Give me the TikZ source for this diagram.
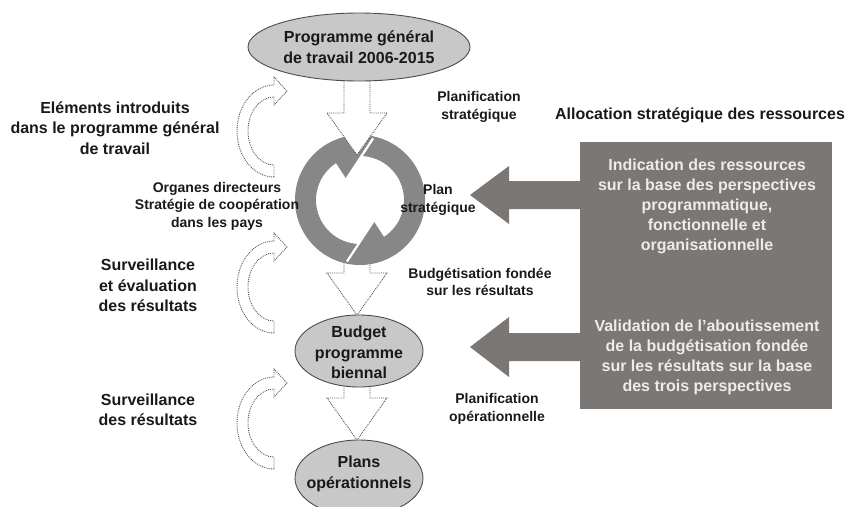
\documentclass[tikz,border=0pt]{standalone}
\usepackage{fontspec}
\setmainfont{Liberation Sans}
\usetikzlibrary{shapes.geometric,calc}
\definecolor{ringgray}{RGB}{135,135,135}
\definecolor{boxgray}{RGB}{122,119,116}
\definecolor{ellgray}{RGB}{200,200,200}
\definecolor{dotgray}{RGB}{85,85,85}
\definecolor{boxtext}{RGB}{236,236,236}
\newcommand{\hollowarr}[4]{% x, shaft top, head base, tip
  \draw[hollow] (#1-13,#2) -- (#1-13,#3) -- (#1-30,#3) -- (#1,#4) -- (#1+30,#3) -- (#1+13,#3) -- (#1+13,#2);}
\newcommand{\curvarr}[2]{%
  \draw[curv] (#1,#2+46) arc[start angle=90,end angle=270,x radius=37,y radius=46]
    -- ++(0,-8) -- ++(13,14) -- ++(-13,14) -- ++(0,-8)
    arc[start angle=270,end angle=90,x radius=26,y radius=34] -- cycle;}
\begin{document}
\begin{tikzpicture}[x=1pt,y=-1pt,
  big/.style={font=\fontsize{16}{20.5}\selectfont\bfseries, align=center, inner sep=0pt, text=black!90},
  small/.style={font=\fontsize{14}{17.5}\selectfont\bfseries, align=center, inner sep=0pt, text=black!90},
  boxtxt/.style={font=\fontsize{16}{20}\selectfont\bfseries, align=center, inner sep=0pt, text=boxtext},
  ell/.style={ellipse, draw=black!70, line width=0.9pt, fill=ellgray, inner sep=0pt},
  hollow/.style={draw=dotgray, densely dotted, line width=0.9pt, fill=white},
  curv/.style={draw=dotgray, densely dotted, line width=0.9pt}]
\useasboundingbox (0,0) rectangle (851,506);

% hollow arrows behind the ring
\hollowarr{357}{250}{273}{315}
\hollowarr{357}{375}{398}{440}

% ring
\coordinate (ring) at (360,200);
\fill[ringgray, even odd rule] (ring) circle[radius=65] (ring) circle[radius=44];
\fill[ringgray] ($(ring)+(282:65)$) -- ($(ring)+(237:25)$) -- ($(ring)+(237:46)$) -- ($(ring)+(260:55)$) -- cycle;
\fill[ringgray] ($(ring)+(102:65)$) -- ($(ring)+(57:25)$) -- ($(ring)+(57:46)$) -- ($(ring)+(80:55)$) -- cycle;
\draw[white, line width=2.2pt] ($(ring)+(282:63)$) -- ($(ring)+(237:25)$);
\draw[white, line width=2.2pt] ($(ring)+(102:63)$) -- ($(ring)+(57:25)$);
\hollowarr{357}{70}{113}{155}

% ellipses
\node[ell, minimum width=222, minimum height=68] (pgt) at (359,47) {};
\node[big] (pgtt) at (pgt) {Programme général\\de travail 2006-2015};
\node[ell, minimum width=128, minimum height=72] (bud) at (359,351) {};
\node[big] (budt) at (359,352.5) {Budget\\programme\\biennal};
\node[ell, minimum width=128, minimum height=76] (ops) at (359,478) {};
\node[big] (opst) at (359,474) {Plans\\opérationnels};

% curved dotted arrows
\curvarr{274}{131}
\curvarr{274}{287}
\curvarr{274}{423}

% left labels
\node[big] (elem) at (115,128) {Eléments introduits\\dans le programme général\\de travail};
\node[small] (org) at (217,206) {Organes directeurs\\Stratégie de coopération\\dans les pays};
\node[big] (surv1) at (148,285.5) {Surveillance\\et évaluation\\des résultats};
\node[big] (surv2) at (148,410) {Surveillance\\des résultats};

% right labels
\node[small] (plst) at (479,107) {Planification\\stratégique};
\node[small] (plan) at (438,200) {Plan\\stratégique};
\node[small] (bfr) at (480,282) {Budgétisation fondée\\sur les résultats};
\node[small] (plop) at (497,409) {Planification\\opérationnelle};
\node[big] (alloc) at (700,115) {Allocation stratégique des ressources};

% box and big arrows
\node[fill=boxgray, minimum width=252, minimum height=267, inner sep=0pt, anchor=north west] (box) at (580,142) {};
\coordinate (t1) at (470,195);
\coordinate (t2) at (470,347);
\fill[boxgray] (box.west |- 0,181) -- (509,181) -- (509,166) -- (t1) -- (509,224) -- (509,209) -- (box.west |- 0,209) -- cycle;
\fill[boxgray] (box.west |- 0,333) -- (509,333) -- (509,317) -- (t2) -- (509,377) -- (509,361) -- (box.west |- 0,361) -- cycle;
\node[boxtxt] (ind) at (707,206) {Indication des ressources\\sur la base des perspectives\\programmatique,\\fonctionnelle et\\organisationnelle};
\node[boxtxt] (val) at (707,357) {Validation de l'aboutissement\\de la budgétisation fondée\\sur les résultats sur la base\\des trois perspectives};
\end{tikzpicture}
\end{document}
